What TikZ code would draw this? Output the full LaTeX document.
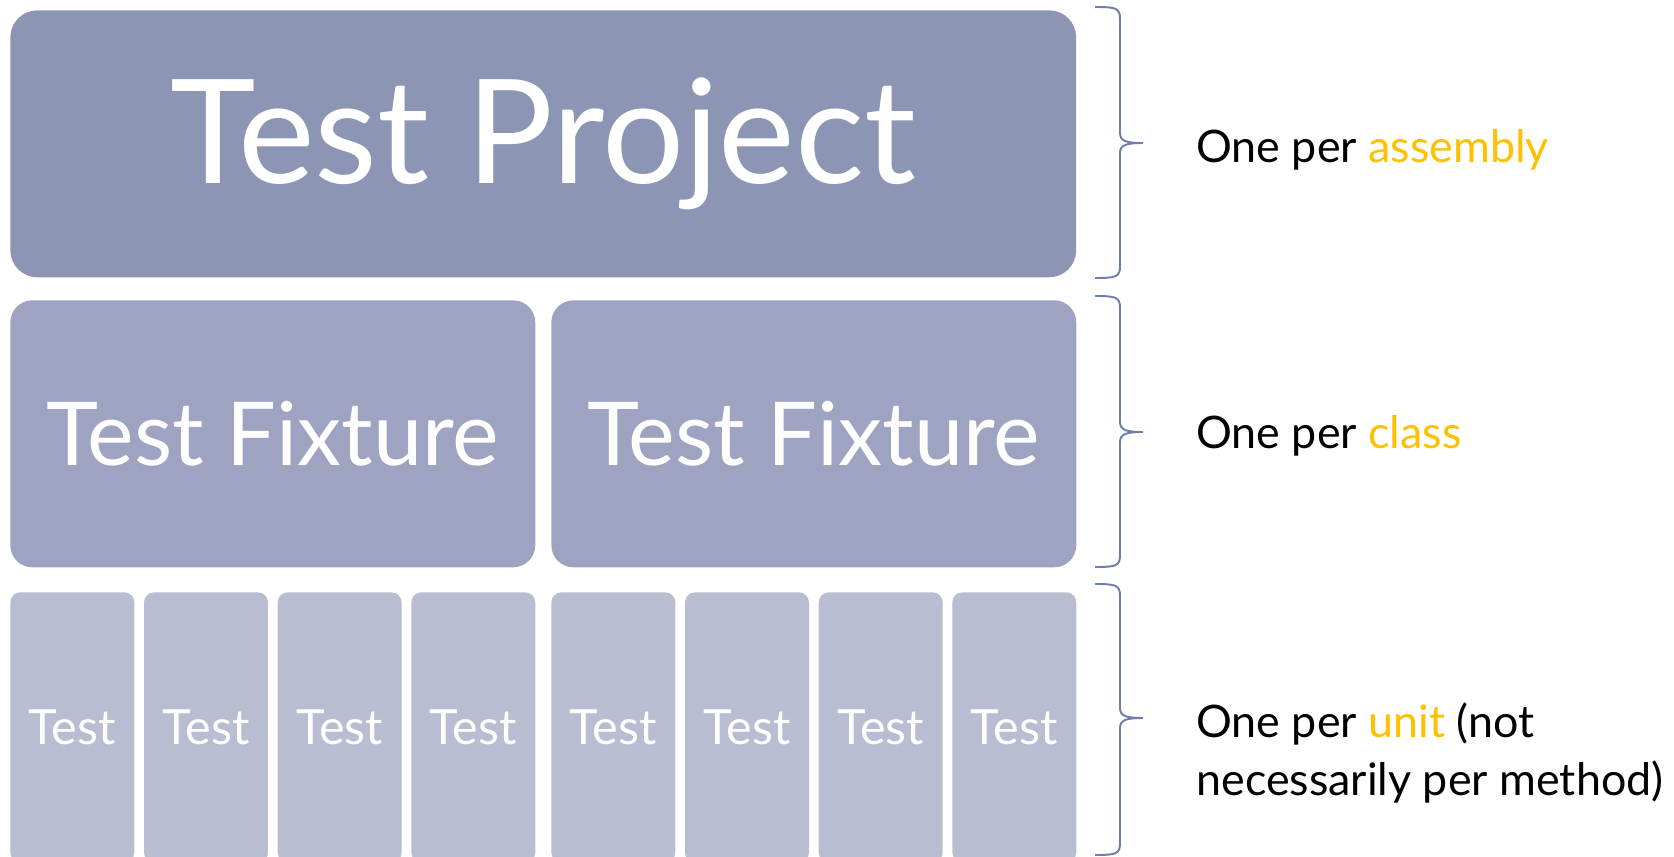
\documentclass[tikz,border=0pt]{standalone}
\usepackage{fontspec}
\setmainfont{Lato}

\definecolor{projfill}{RGB}{140,150,180}
\definecolor{fixfill}{RGB}{157,163,192}
\definecolor{testfill}{RGB}{184,189,210}
\definecolor{bracecol}{RGB}{112,124,170}
\definecolor{gold}{RGB}{255,192,0}

\begin{document}
\begin{tikzpicture}[x=0.02cm,y=-0.02cm,
    box/.style={anchor=north west,inner sep=0pt,text=white},
    note/.style={anchor=base west,inner sep=0pt,align=left,
      font=\fontsize{25.5}{32.9}\selectfont}]
      \useasboundingbox (0,0) rectangle (1674,856);

      % top level
      \node[box,fill=projfill,rounded corners=0.54cm,minimum width=21.32cm,
        minimum height=5.34cm,font=\fontsize{82.5}{90}\selectfont] (project) at (10,10) {Test Project};

      % middle level
      \node[box,fill=fixfill,rounded corners=0.44cm,minimum width=10.5cm,
        minimum height=5.34cm,font=\fontsize{50.2}{60}\selectfont] (fixA) at (10,300) {Test Fixture};
      \node[box,fill=fixfill,rounded corners=0.44cm,minimum width=10.5cm,
        minimum height=5.34cm,font=\fontsize{50.2}{60}\selectfont] (fixB) at (551,300) {Test Fixture};

      % bottom level
      \foreach \i/\x in {1/10,2/143.67,3/277.33,4/411,5/551,6/684.67,7/818.33,8/952}
        \node[box,fill=testfill,rounded corners=0.2cm,minimum width=2.48cm,
          minimum height=5.4cm,font=\fontsize{27.6}{34}\selectfont] (test\i) at (\x,592) {Test};

      % braces
      \foreach \top/\mid/\bot in {7/143/278,296/432/567,584/718/855}
        \draw[bracecol,line width=1.1pt] (1095,\top) .. controls (1116,\top) and (1120,\top+1) .. (1120,\top+12)
          -- (1120,\mid-10) .. controls (1120,\mid-2) and (1126,\mid) .. (1143,\mid)
          .. controls (1126,\mid) and (1120,\mid+2) .. (1120,\mid+10)
          -- (1120,\bot-12) .. controls (1120,\bot-1) and (1116,\bot) .. (1095,\bot);

      \node[note] (perasm) at (1196,162) {One per \textcolor{gold}{assembly}};
      \node[note] (perclass) at (1196,448) {One per \textcolor{gold}{class}};
      % base is the last line here
      \node[note] (perunit) at (1196,795) {One per \textcolor{gold}{unit} (not\\necessarily per method)};
    \end{tikzpicture}
\end{document}
